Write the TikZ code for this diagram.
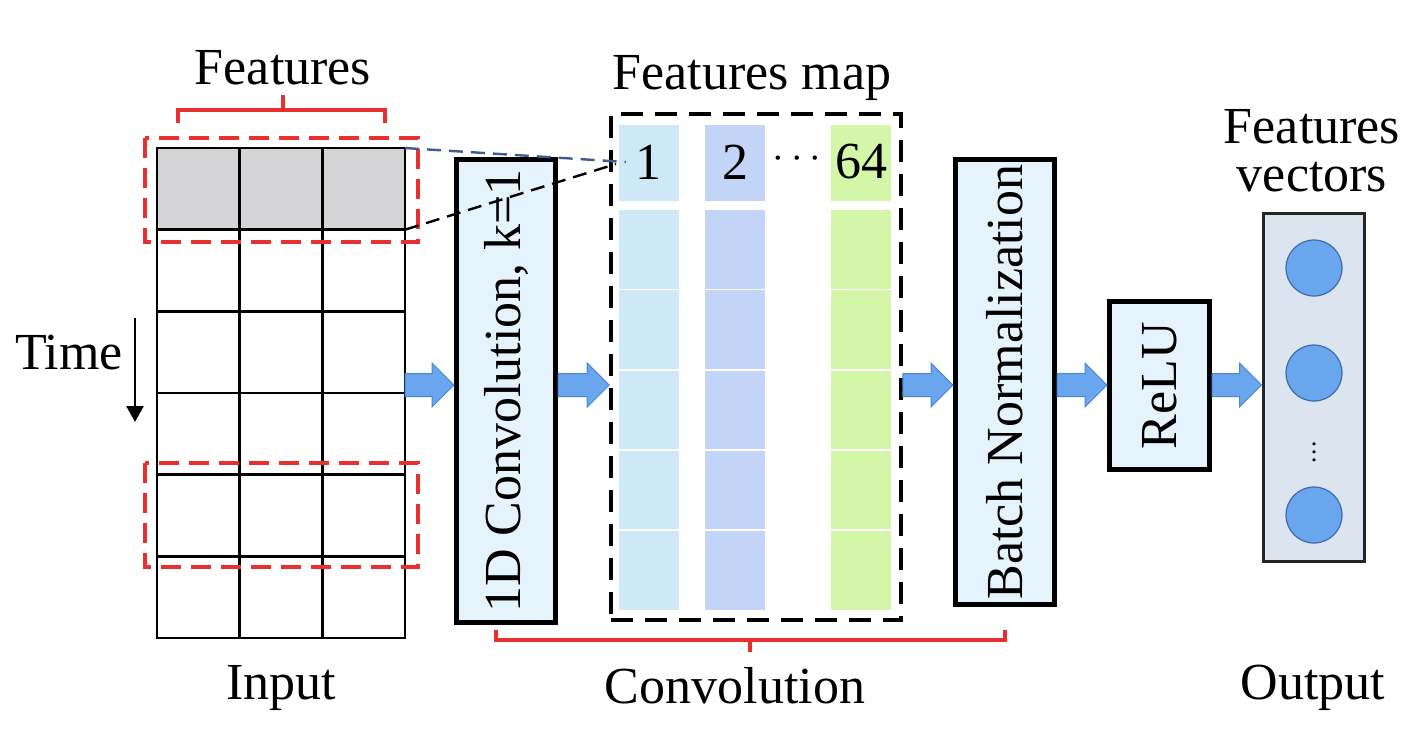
\documentclass[tikz,border=0pt]{standalone}
\usepackage{fontspec}
\usepackage{graphicx}
\setmainfont{Liberation Serif}
\usetikzlibrary{arrows.meta,calc}
\definecolor{markred}{HTML}{E8312F}
\definecolor{rowgray}{HTML}{D4D4D6}
\definecolor{boxfill}{HTML}{E4F3FC}
\definecolor{outfill}{HTML}{DCE4EF}
\definecolor{arrowfill}{HTML}{6AA6EE}
\definecolor{arrowedge}{HTML}{4A86D8}
\definecolor{linkblue}{HTML}{3E5C8E}
\definecolor{mapa}{HTML}{CEE8F7}
\definecolor{mapb}{HTML}{C3D5F6}
\definecolor{mapc}{HTML}{D4F6A8}
\tikzset{
  gridline/.style={line width=1.2pt},
  redbox/.style={draw=markred,line width=2pt,dash pattern=on 10pt off 5pt},
  redbrace/.style={draw=markred,line width=1.6pt},
  layer/.style={draw,line width=2.5pt,fill=boxfill,inner sep=0pt},
  mapbox/.style={draw,line width=1.8pt,dash pattern=on 11pt off 6pt,inner sep=0pt},
  link/.style={line width=1.2pt,dash pattern=on 7pt off 4pt},
  unit/.style={circle,draw=arrowedge!80!black,fill=arrowfill,line width=0.6pt,minimum size=28pt,inner sep=0pt},
  flow/.style={draw=arrowedge,fill=arrowfill,line width=0.5pt,
    to path={let \p1=(\tikztostart), \p2=(\tikztotarget) in
      (\x1,\y1-5.75pt) -- (\x2-11pt,\y1-5.75pt) -- (\x2-11pt,\y1-11pt) -- (\x2,\y1)
      -- (\x2-11pt,\y1+11pt) -- (\x2-11pt,\y1+5.75pt) -- (\x1,\y1+5.75pt) -- cycle}}
}
\begin{document}
\begin{tikzpicture}[x=0.5pt,y=-0.5pt,font=\fontsize{26}{24}\selectfont]
    \useasboundingbox (0,0) rectangle (1418,736);

    % input grid
    \fill[rowgray] (157,148) rectangle (405,229.67);
    \foreach \r in {0,...,5}
    {\foreach \c in {0,1,2}
    {\draw[gridline] (157+\c*82.67,148+\r*81.67) rectangle ++(82.67,81.67);}}
    \coordinate (g1) at (405,148);
    \coordinate (g2) at (405,229.67);
    \coordinate (gridE) at (405,385);

    \draw[redbox] (145,138) rectangle (418,242);
    \draw[redbox] (145,463) rectangle (418,567);
    \draw[redbrace] (178,123) -- (178,110) -- (385,110) -- (385,123);
    \draw[redbrace] (283,110) -- (283,95);
    \node (feat) at (283,68) {Features};
    \node (time) at (69,353) {Time};
    \draw[line width=1.3pt,-{Triangle[length=8pt,width=8.5pt]}] (135,318) -- (135,422);
    \node (input) at (281,688) {Input};

    % convolution
    \node[layer,minimum width=49.5pt,minimum height=231.5pt] (conv) at (506,391)
        {\rotatebox{90}{1D Convolution, k=1}};

    % features map
    \node[mapbox,minimum width=145pt,minimum height=253pt] (fmap) at (756,367) {};
    \foreach \x/\c in {619/mapa,705/mapb,831/mapc}
    {\fill[\c] (\x,125) rectangle ++(60,76);
     \foreach \k in {0,...,4}
     {\fill[\c] (\x,210+\k*80.3) rectangle ++(60,78.5);}}
    \node (m1) at (648,162) {1};
    \node (m2) at (735,162) {2};
    \node[font=\fontsize{20}{20}\selectfont] (mdots) at (797,159) {$\cdots$};
    \node (m64) at (861,162) {64};
    \node (fmaplabel) at (752,78) {Features map};
    \draw[link,draw=linkblue] (g1) -- ([xshift=-1pt]m1.west);
    \draw[link] (g2) -- ([xshift=-6pt,yshift=-1pt]m1.west);

    \node[layer,minimum width=49.5pt,minimum height=222.5pt] (bn) at (1005,382)
        {\rotatebox{90}{Batch Normalization}};
    \node[layer,minimum width=50pt,minimum height=84pt] (relu) at (1159.5,385.5)
        {\rotatebox{90}{ReLU}};

    \draw[redbrace] (496,630) -- (496,640) -- (1005,640) -- (1005,630);
    \draw[redbrace] (750,640) -- (750,652);
    \node (convlabel) at (735,686) {Convolution};

    % output
    \node[draw=black!85,line width=1.5pt,fill=outfill,minimum width=50.5pt,minimum height=174pt,inner sep=0pt] (out) at (1313.5,387) {};
    \foreach \y/\n in {268/c1,373/c2,515/c3}
    {\node[unit] (\n) at (1314,\y) {};}
    \node[font=\fontsize{13}{13}\selectfont] (vd) at (1314,446) {$\vdots$};
    \node[align=center] (vec) at (1312,151) {Features\\vectors};
    \node (output) at (1313,688) {Output};

    \coordinate (mid) at (0,385);
    \draw[flow] (gridE) to (conv.west |- mid);
    \draw[flow] (conv.east |- mid) to (fmap.west |- mid);
    \draw[flow] (fmap.east |- mid) to (bn.west |- mid);
    \draw[flow] (bn.east |- mid) to (relu.west |- mid);
    \draw[flow] (relu.east |- mid) to (out.west |- mid);
\end{tikzpicture}
\end{document}
